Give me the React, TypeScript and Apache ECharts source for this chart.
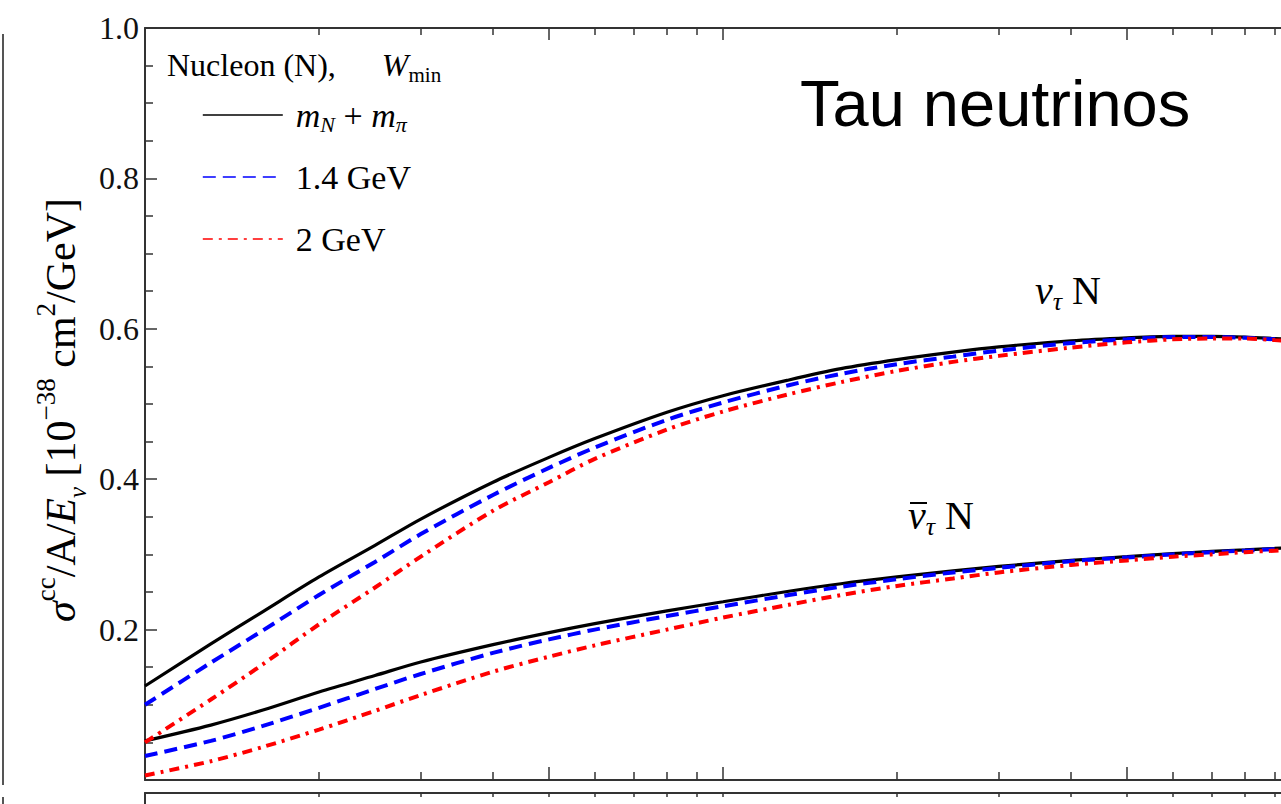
import React, { useEffect, useRef } from "react";
import * as echarts from "echarts";

// Neutrino energy samples (log axis)
const energies = [10, 13, 16, 20, 25, 30, 40, 50, 60, 80, 100, 130, 160, 200, 250, 300, 400, 500, 600, 700, 800, 900, 1000];

// nu_tau N
const nuMinPi = [0.125, 0.181, 0.224, 0.270, 0.312, 0.347, 0.396, 0.429, 0.454, 0.489, 0.511, 0.532, 0.547, 0.559, 0.569, 0.576, 0.584, 0.588, 0.590, 0.590, 0.589, 0.587, 0.585];
const nu14 = [0.100, 0.156, 0.199, 0.246, 0.290, 0.327, 0.379, 0.415, 0.442, 0.479, 0.502, 0.525, 0.540, 0.553, 0.563, 0.571, 0.581, 0.586, 0.589, 0.589, 0.588, 0.586, 0.584];
const nu2 = [0.050, 0.107, 0.154, 0.207, 0.256, 0.297, 0.358, 0.396, 0.427, 0.466, 0.490, 0.513, 0.529, 0.544, 0.556, 0.564, 0.575, 0.582, 0.586, 0.587, 0.587, 0.585, 0.583];

// anti-nu_tau N
const nubarMinPi = [0.052, 0.073, 0.093, 0.117, 0.139, 0.157, 0.180, 0.196, 0.208, 0.225, 0.237, 0.251, 0.261, 0.270, 0.278, 0.284, 0.292, 0.297, 0.301, 0.304, 0.306, 0.308, 0.310];
const nubar14 = [0.032, 0.052, 0.072, 0.096, 0.121, 0.141, 0.169, 0.187, 0.200, 0.218, 0.231, 0.246, 0.257, 0.267, 0.276, 0.282, 0.291, 0.296, 0.300, 0.303, 0.305, 0.307, 0.309];
const nubar2 = [0.006, 0.025, 0.044, 0.067, 0.092, 0.113, 0.144, 0.164, 0.179, 0.200, 0.216, 0.233, 0.246, 0.258, 0.268, 0.276, 0.286, 0.292, 0.297, 0.300, 0.303, 0.305, 0.307];

const legendNames = ["mN + mπ", "1.4 GeV", "2 GeV"];
const yTickLabels = [0.2, 0.4, 0.6, 0.8, 1.0];
const xMinorTicks = [20, 30, 40, 60, 70, 80, 90, 200, 300, 400, 600, 700, 800, 900];
const xMajorTicks = [50, 100, 500];

const SERIF = '"Liberation Serif", "Times New Roman", serif';
const SANS = '"Liberation Sans", Arial, Helvetica, sans-serif';
const AXIS = "#333";

export default function App() {
  const ref = useRef<HTMLDivElement>(null);

  useEffect(() => {
    document.body.style.margin = "0";
    if (!ref.current) return;
    const chart = echarts.init(ref.current, null, { renderer: "svg" });

    const styles = [
      { color: "#000000", width: 3.2, type: "solid" as any },
      { color: "#0000ff", width: 4, type: [13, 7] as any },
      { color: "#ff0000", width: 4, type: [10, 6, 3, 6] as any },
    ];
    const mk = (name: string, values: number[], k: number) => ({
      type: "line",
      name,
      xAxisIndex: 0,
      yAxisIndex: 0,
      data: energies.map((e, i) => [e, values[i]]),
      symbol: "none",
      smooth: 0.3,
      color: styles[k].color,
      lineStyle: styles[k],
      z: 2 + k,
    });

    const axisLine = { show: true, onZero: false, lineStyle: { color: AXIS, width: 2 } };
    const tickStyle = { color: AXIS, width: 1.5 };
    const logX = {
      type: "log",
      logBase: 10,
      min: 10,
      max: 1000,
      splitLine: { show: false },
      axisLabel: { show: false },
    };

    const gridW = 1156;

    const option: any = {
      animation: false,
      backgroundColor: "#ffffff",
      grid: [
        { left: 145, top: 28, width: gridW, height: 752 },
        { left: 145, top: 793, width: gridW, height: 200 },
      ],
      legend: {
        data: legendNames,
        orient: "vertical",
        left: 197,
        top: 90,
        itemWidth: 80,
        itemHeight: 14,
        itemGap: 22,
        selectedMode: false,
        lineStyle: { width: 1.6 },
        itemStyle: { opacity: 0, color: "rgba(0,0,0,0)", borderWidth: 0 },
        textStyle: {
          fontFamily: SERIF,
          fontSize: 34,
          color: "#000",
          lineHeight: 40,
          padding: [0, 0, 0, 8],
          rich: {
            n: { fontFamily: SERIF, fontSize: 34, lineHeight: 40, color: "#000" },
            i: { fontFamily: SERIF, fontSize: 34, fontStyle: "italic", lineHeight: 40, color: "#000" },
            sub: { fontFamily: SERIF, fontSize: 22, fontStyle: "italic", lineHeight: 26, verticalAlign: "bottom", color: "#000" },
          },
        },
        formatter: (name: string) =>
          name === legendNames[0] ? "{i|m}{sub|N}{n|\u00a0+\u00a0}{i|m}{sub|π}" : name,
      },
      xAxis: [
        { ...logX, gridIndex: 0, position: "bottom", axisLine, axisTick: { show: true, inside: true, length: 8, customValues: xMinorTicks, lineStyle: tickStyle } },
        { ...logX, gridIndex: 0, position: "bottom", axisLine: { show: false, onZero: false }, axisTick: { show: true, inside: true, length: 13, customValues: xMajorTicks, lineStyle: tickStyle } },
        { ...logX, gridIndex: 0, position: "top", axisLine, axisTick: { show: true, inside: true, length: 7, customValues: xMinorTicks, lineStyle: tickStyle } },
        { ...logX, gridIndex: 0, position: "top", axisLine: { show: false, onZero: false }, axisTick: { show: true, inside: true, length: 12, customValues: xMajorTicks, lineStyle: tickStyle } },
        { ...logX, gridIndex: 1, position: "top", axisLine, axisTick: { show: true, inside: true, length: 4, customValues: [...xMinorTicks, ...xMajorTicks], lineStyle: tickStyle } },
      ],
      yAxis: [
        {
          gridIndex: 0,
          type: "value",
          min: 0,
          max: 1,
          interval: 0.2,
          position: "left",
          axisLine,
          axisTick: { show: true, inside: true, length: 12, lineStyle: tickStyle },
          minorTick: { show: true, splitNumber: 4, length: 8, lineStyle: tickStyle },
          splitLine: { show: false },
          axisLabel: {
            show: true,
            customValues: yTickLabels,
            formatter: (v: number) => v.toFixed(1),
            fontFamily: SERIF,
            fontSize: 32,
            color: "#111",
            margin: 6,
          },
        },
        {
          gridIndex: 1,
          type: "value",
          min: 0,
          max: 1,
          position: "left",
          axisLine,
          axisTick: { show: false },
          splitLine: { show: false },
          axisLabel: { show: false },
        },
      ],
      series: [
        mk(legendNames[0], nuMinPi, 0),
        mk(legendNames[0], nubarMinPi, 0),
        mk(legendNames[1], nu14, 1),
        mk(legendNames[1], nubar14, 1),
        mk(legendNames[2], nu2, 2),
        mk(legendNames[2], nubar2, 2),
      ],
      graphic: [
        {
          type: "text",
          x: 167,
          y: 65,
          style: {
            text: "{n|Nucleon (N),}{w|W}{sub|min}",
            align: "left",
            verticalAlign: "middle",
            rich: {
              n: { fontFamily: SERIF, fontSize: 32, lineHeight: 40, fill: "#000" },
              w: { fontFamily: SERIF, fontSize: 32, fontStyle: "italic", lineHeight: 40, padding: [0, 0, 0, 46], fill: "#000" },
              sub: { fontFamily: SERIF, fontSize: 21, lineHeight: 26, verticalAlign: "bottom", fill: "#000" },
            },
          },
        },
        {
          type: "text",
          x: 61,
          y: 410,
          rotation: Math.PI / 2,
          style: {
            text: "{i|σ}{sup|cc}{n|/A/}{i|E}{sub|ν}{n|\u00a0[10}{sup|−38}{n|\u00a0cm}{sup|2}{n|/GeV]}",
            align: "center",
            verticalAlign: "middle",
            rich: {
              n: { fontFamily: SERIF, fontSize: 42, lineHeight: 58, fill: "#000" },
              i: { fontFamily: SERIF, fontSize: 42, fontStyle: "italic", lineHeight: 58, fill: "#000" },
              sup: { fontFamily: SERIF, fontSize: 27, lineHeight: 31, verticalAlign: "top", fill: "#000" },
              sub: { fontFamily: SERIF, fontSize: 25, fontStyle: "italic", lineHeight: 42, verticalAlign: "bottom", fill: "#000" },
            },
          },
        },
        {
          type: "text",
          x: 800,
          y: 103,
          style: {
            text: "Tau neutrinos",
            fontFamily: SANS,
            fontSize: 65,
            fill: "#000",
            align: "left",
            verticalAlign: "middle",
          },
        },
        {
          type: "text",
          x: 1035,
          y: 290,
          style: {
            text: "{i|ν}{sub|τ}{n|\u00a0N}",
            align: "left",
            verticalAlign: "middle",
            rich: {
              n: { fontFamily: SERIF, fontSize: 40, lineHeight: 48, fill: "#000" },
              i: { fontFamily: SERIF, fontSize: 40, fontStyle: "italic", lineHeight: 48, fill: "#000" },
              sub: { fontFamily: SERIF, fontSize: 26, fontStyle: "italic", lineHeight: 34, verticalAlign: "bottom", fill: "#000" },
            },
          },
        },
        {
          type: "text",
          x: 908,
          y: 515,
          style: {
            text: "{i|ν}{sub|τ}{n|\u00a0N}",
            align: "left",
            verticalAlign: "middle",
            rich: {
              n: { fontFamily: SERIF, fontSize: 40, lineHeight: 48, fill: "#000" },
              i: { fontFamily: SERIF, fontSize: 40, fontStyle: "italic", lineHeight: 48, fill: "#000" },
              sub: { fontFamily: SERIF, fontSize: 26, fontStyle: "italic", lineHeight: 34, verticalAlign: "bottom", fill: "#000" },
            },
          },
        },
        {
          type: "line",
          shape: { x1: 910, y1: 503, x2: 927, y2: 503 },
          style: { stroke: "#000", lineWidth: 2 },
        },
        {
          type: "line",
          shape: { x1: 3, y1: 34, x2: 3, y2: 785 },
          style: { stroke: "#555", lineWidth: 2 },
        },
        {
          type: "line",
          shape: { x1: 3, y1: 797, x2: 3, y2: 804 },
          style: { stroke: "#555", lineWidth: 2 },
        },
      ],
    };

    chart.setOption(option);
    return () => {
      chart.dispose();
    };
  }, []);

  return (
    <div style={{ width: 1281, height: 804, overflow: "hidden", position: "relative", background: "#fff" }}>
      <div ref={ref} style={{ width: 1320, height: 804 }} />
    </div>
  );
}
